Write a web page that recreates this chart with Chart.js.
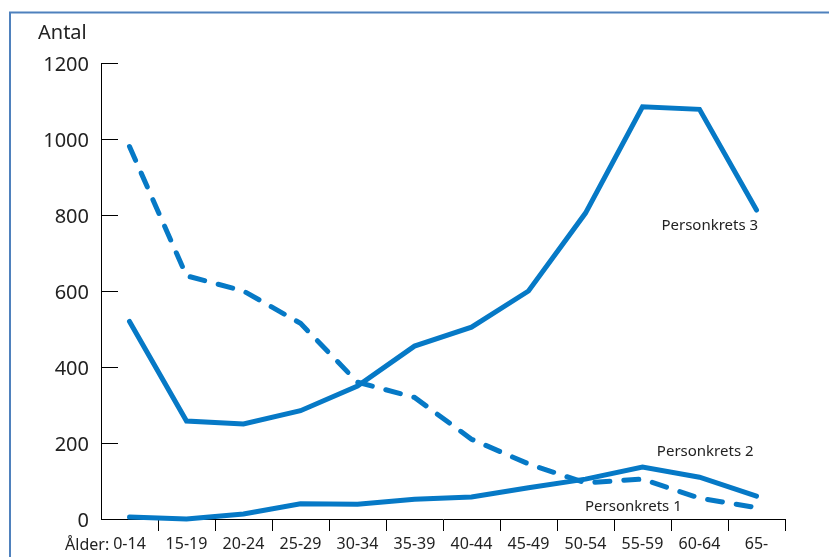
<!DOCTYPE html>
<html>
<head>
<meta charset="utf-8">
<script src="https://cdn.jsdelivr.net/npm/chart.js@4.4.1/dist/chart.umd.min.js"></script>
<style>
  html, body { margin: 0; padding: 0; background: #ffffff; }
  #wrap { position: relative; width: 829px; height: 557px; }
</style>
</head>
<body>
<div id="wrap"><canvas id="c" width="829" height="557"></canvas></div>
<script>
// ---- data ----
const ageGroups = ['0-14', '15-19', '20-24', '25-29', '30-34', '35-39', '40-44', '45-49', '50-54', '55-59', '60-64', '65-'];
const personkrets1 = [980, 640, 600, 515, 360, 320, 210, 145, 95, 105, 55, 30];
const personkrets2 = [5, 0, 13, 40, 39, 52, 58, 82, 105, 137, 110, 60];
const personkrets3 = [520, 258, 250, 285, 350, 455, 505, 600, 805, 1085, 1078, 813];
const yTicks = [0, 200, 400, 600, 800, 1000, 1200];
const seriesNames = ['Personkrets 1', 'Personkrets 2', 'Personkrets 3'];
const yAxisTitle = 'Antal';
const xAxisTitle = 'Ålder:';

const BLUE = '#0679c6';
const TEXT = '#222222';
const FONT = "'Noto Sans', 'DejaVu Sans', sans-serif";

// series label anchors (category index, value)
const seriesLabels = [
  { text: seriesNames[2], idx: 10.18, val: 772 },
  { text: seriesNames[1], idx: 10.10, val: 177 },
  { text: seriesNames[0], idx: 8.84, val: 32 }
];

const decor = {
  id: 'decor',
  beforeDraw(chart) {
    const ctx = chart.ctx;
    ctx.save();
    ctx.strokeStyle = '#4f81bd';
    ctx.lineWidth = 2;
    ctx.beginPath();
    ctx.moveTo(10, 557);
    ctx.lineTo(10, 12.5);
    ctx.lineTo(829, 12.5);
    ctx.stroke();
    ctx.restore();
  },
  afterDraw(chart) {
    const ctx = chart.ctx;
    const x = chart.scales.x, y = chart.scales.y;
    ctx.save();
    // inward y ticks
    ctx.strokeStyle = '#000';
    ctx.lineWidth = 1;
    yTicks.forEach(v => {
      if (v === 0) return;
      const py = Math.round(y.getPixelForValue(v)) + 0.5;
      ctx.beginPath();
      ctx.moveTo(chart.chartArea.left, py);
      ctx.lineTo(chart.chartArea.left + 17, py);
      ctx.stroke();
    });
    // axis titles
    ctx.fillStyle = TEXT;
    ctx.font = '20px ' + FONT;
    ctx.textAlign = 'left';
    ctx.textBaseline = 'middle';
    ctx.fillText(yAxisTitle, 38, 33);
    ctx.font = '16px ' + FONT;
    const firstW = ctx.measureText(ageGroups[0]).width;
    ctx.textAlign = 'right';
    ctx.fillText(xAxisTitle, x.getPixelForValue(0) - firstW / 2 - 4, 545);
    // series labels
    ctx.font = '15px ' + FONT;
    ctx.textAlign = 'center';
    seriesLabels.forEach(l => {
      ctx.fillText(l.text, x.getPixelForValue(l.idx), y.getPixelForValue(l.val));
    });
    ctx.restore();
  }
};

const lineDs = (label, data, dash) => ({
  label, data,
  borderColor: BLUE,
  backgroundColor: BLUE,
  borderWidth: 5,
  borderDash: dash,
  borderCapStyle: 'round',
  pointRadius: 0,
  pointHoverRadius: 0,
  tension: 0,
  fill: false,
  clip: false
});

new Chart(document.getElementById('c'), {
  type: 'line',
  data: {
    labels: ageGroups,
    datasets: [
      lineDs(seriesNames[0], personkrets1, [15, 14]),
      lineDs(seriesNames[1], personkrets2, []),
      lineDs(seriesNames[2], personkrets3, [])
    ]
  },
  options: {
    responsive: false,
    animation: false,
    events: [],
    layout: { padding: { left: 0, right: 44, top: 63, bottom: 0 } },
    plugins: { legend: { display: false }, tooltip: { enabled: false }, title: { display: false } },
    scales: {
      x: {
        type: 'category',
        offset: true,
        afterFit(s) { s.height = 38; },
        border: { display: true, color: '#000', width: 1 },
        grid: {
          display: true,
          offset: true,
          drawOnChartArea: false,
          drawTicks: true,
          tickLength: 12,
          lineWidth: 1,
          color: (c) => c.index === 0 ? 'rgba(0,0,0,0)' : '#000'
        },
        ticks: {
          color: TEXT,
          font: { family: FONT, size: 16 },
          padding: 4,
          maxRotation: 0,
          autoSkip: false
        }
      },
      y: {
        min: 0,
        max: 1200,
        afterFit(s) { s.width = 101; },
        afterBuildTicks(s) { s.ticks = yTicks.map(v => ({ value: v })); },
        border: { display: true, color: '#000', width: 1 },
        grid: { display: false, drawTicks: false },
        ticks: {
          color: TEXT,
          font: { family: FONT, size: 20 },
          padding: 12,
          labelOffset: 2,
          callback: (v) => String(v)
        }
      }
    }
  },
  plugins: [decor]
});
</script>
</body>
</html>
